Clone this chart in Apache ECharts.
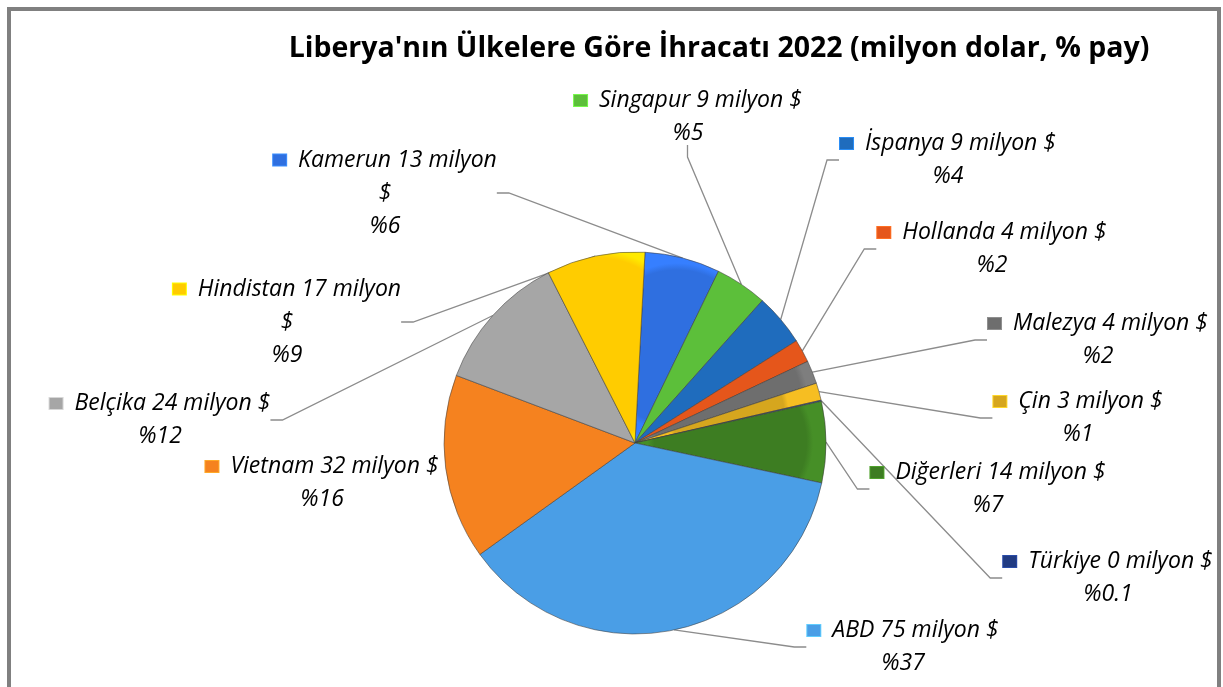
<!DOCTYPE html>
<html>
<head>
<meta charset="utf-8">
<script src="https://cdn.jsdelivr.net/npm/echarts@6/dist/echarts.min.js"></script>
<style>
  html, body { margin: 0; padding: 0; background: #fff; }
  #frame {
    position: absolute; left: 7px; top: 7px; width: 1206px; height: 690px;
    border: 4px solid #808080; border-bottom: none;
  }
  #chart { position: absolute; left: 0; top: 0; width: 1223px; height: 687px; }
</style>
</head>
<body>
<div id="frame"></div>
<div id="chart"></div>
<script>
// ülkeler (saat yönünde, tepeden başlayarak)
var countries = ["Kamerun", "Singapur", "İspanya", "Hollanda", "Malezya", "Çin",
  "Türkiye", "Diğerleri", "ABD", "Vietnam", "Belçika", "Hindistan"];
// ihracat, milyon $
var exportValues = [13, 9, 9, 4, 4, 3, 0.2, 14, 75, 32, 24, 17];
// etikette gösterilen milyon $ değerleri
var valueLabels = ["13", "9", "9", "4", "4", "3", "0", "14", "75", "32", "24", "17"];
// % pay
var shares = ["6", "5", "4", "2", "2", "1", "0.1", "7", "37", "16", "12", "9"];

var colors = ["#2f6fe0", "#5cbf3a", "#1f6cbd", "#e5561b", "#6e6e6e", "#d6a61e",
  "#213b82", "#3d7d22", "#4a9ee6", "#f5821f", "#a6a6a6", "#ffcc00"];

// etiket konumları (orta x, orta y)
var labelPos = [[385, 193], [688, 117], [948, 160], [992, 249], [1098, 340], [1078, 418],
  [1108, 578], [988, 489], [903, 647], [322, 483], [160, 420], [287, 322]];
var wrapped = ["Kamerun", "Hindistan"];
var noLine = ["Vietnam"];

var chart = echarts.init(document.getElementById("chart"));

function shade(c) {
  return new echarts.graphic.RadialGradient(0.5, 0.5, 1, [
    { offset: 0, color: c },
    { offset: 0.92, color: c },
    { offset: 1, color: echarts.color.lift(c, -0.15) }
  ]);
}

var rich = { t: { fontSize: 23, fontStyle: "italic", color: "#000", lineHeight: 33,
  fontFamily: "'Open Sans', sans-serif" } };
colors.forEach(function (c, i) {
  rich["m" + i] = { width: 13, height: 11, backgroundColor: c, borderColor: echarts.color.lift(c, -0.3),
    borderWidth: 1 };
});

var data = countries.map(function (name, i) {
  return {
    name: name, value: exportValues[i],
    itemStyle: { color: shade(colors[i]) },
    labelLine: { show: noLine.indexOf(name) < 0 }
  };
});

chart.setOption({
  animation: false,
  title: {
    text: "Liberya'nın Ülkelere Göre İhracatı 2022 (milyon dolar, % pay)",
    left: 714, top: 29, textAlign: "center",
    textStyle: { fontSize: 28.5, fontWeight: "bold", color: "#000",
      fontFamily: "'Open Sans', sans-serif" }
  },
  series: [{
    type: "pie",
    center: [635, 443],
    radius: 191,
    startAngle: 87,
    clockwise: true,
    avoidLabelOverlap: false,
    data: data,
    itemStyle: { borderColor: "rgba(60,60,60,0.55)", borderWidth: 1 },
    label: {
      show: true,
      position: "outside",
      align: "center",
      formatter: function (p) {
        var i = p.dataIndex;
        var head = countries[i] + " " + valueLabels[i] + " milyon";
        var sep = wrapped.indexOf(countries[i]) >= 0 ? "\n" : " ";
        return "{m" + i + "|}{t|  " + head + "}{t|" + sep + "$}\n{t|%" + shares[i] + "}";
      },
      rich: rich
    },
    labelLine: { show: true, length: 10, length2: 12, lineStyle: { color: "#8c8c8c", width: 1.3 } },
    labelLayout: function (params) {
      var pos = labelPos[params.dataIndex];
      return { x: pos[0], y: pos[1], align: "center", verticalAlign: "middle" };
    }
  }]
});
</script>
</body>
</html>
